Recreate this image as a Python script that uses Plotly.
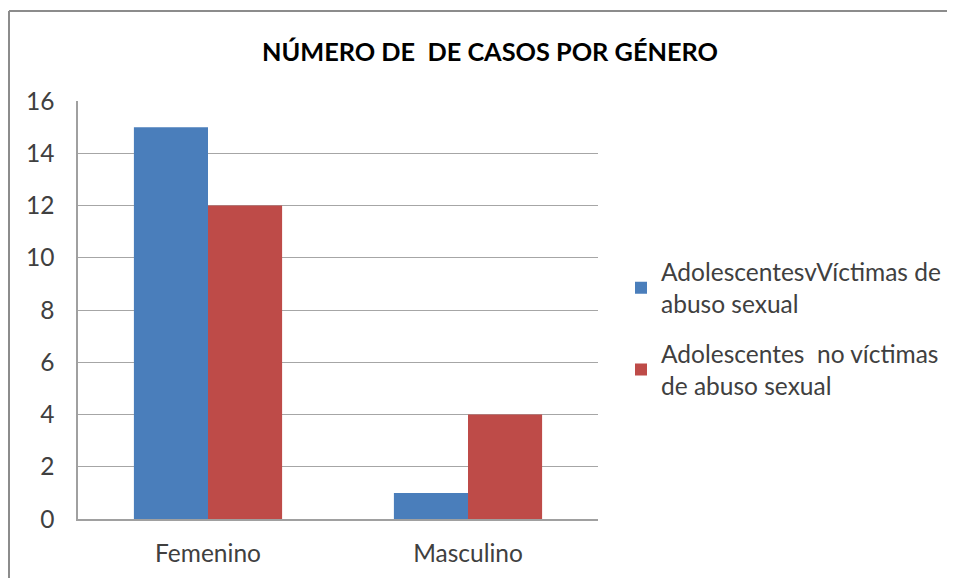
import plotly.graph_objects as go

categories = ["Femenino", "Masculino"]
victimas = [15, 1]
no_victimas = [12, 4]
series_names = ["AdolescentesvVíctimas de<br>abuso sexual", "Adolescentes  no víctimas<br>de abuso sexual"]
title_text = "NÚMERO DE  DE CASOS POR GÉNERO"

W, H = 955, 578
OFF = 8  # page body margin
L, R, T, B = 78 - OFF, 598 - OFF, 101 - OFF, 519 - OFF
pw, ph = R - L, B - T

def px(x):
    return (x - OFF - L) / pw

def py(y):
    return (B - (y - OFF)) / ph

fig = go.Figure()
fig.add_trace(go.Bar(x=categories, y=victimas, name=series_names[0], legendgroup="a",
                     marker=dict(color="#4a7ebb", line=dict(width=0))))
fig.add_trace(go.Bar(x=categories, y=no_victimas, name=series_names[1], legendgroup="b",
                     marker=dict(color="#be4b48", line=dict(width=0))))

fig.update_layout(
    width=W, height=H,
    margin=dict(l=L, r=W - R, t=T, b=H - B, pad=0),
    paper_bgcolor="white", plot_bgcolor="white",
    barmode="group", bargap=0.43, bargroupgap=0,
    font=dict(family="Lato", color="#404040", size=24),
    title=dict(text="<b>" + title_text + "</b>", xref="paper", x=px(490), xanchor="center",
               yref="container", y=1 - (52 - OFF) / H, yanchor="middle",
               font=dict(family="Lato", size=25.3, color="#000000")),
    showlegend=True,
    legend=dict(x=px(621), xanchor="left", y=py(329), yanchor="middle",
                font=dict(family="Lato", size=24.5, color="#404040"),
                tracegroupgap=15, bgcolor="rgba(0,0,0,0)"),
    xaxis=dict(showline=True, linecolor="#a0a0a0", linewidth=1.5,
               ticks="", tickfont=dict(size=24.5, color="#404040"),
               ticklabelstandoff=12, showgrid=False),
    yaxis=dict(range=[0, 16], dtick=2, showline=True, linecolor="#a0a0a0",
               linewidth=1.5, showgrid=True, gridcolor="#a6a6a6", gridwidth=1,
               ticks="", ticklabelstandoff=17, tickfont=dict(size=24.5, color="#404040"),
               zeroline=False),
    shapes=[
        dict(type="line", xref="paper", yref="paper",
             x0=px(9), x1=px(9), y0=py(600), y1=py(11),
             line=dict(color="#8c8c8c", width=2), layer="below"),
        dict(type="line", xref="paper", yref="paper",
             x0=px(9), x1=px(975), y0=py(11), y1=py(11),
             line=dict(color="#8c8c8c", width=2), layer="below"),
    ],
)

fig.write_html("out.html")
